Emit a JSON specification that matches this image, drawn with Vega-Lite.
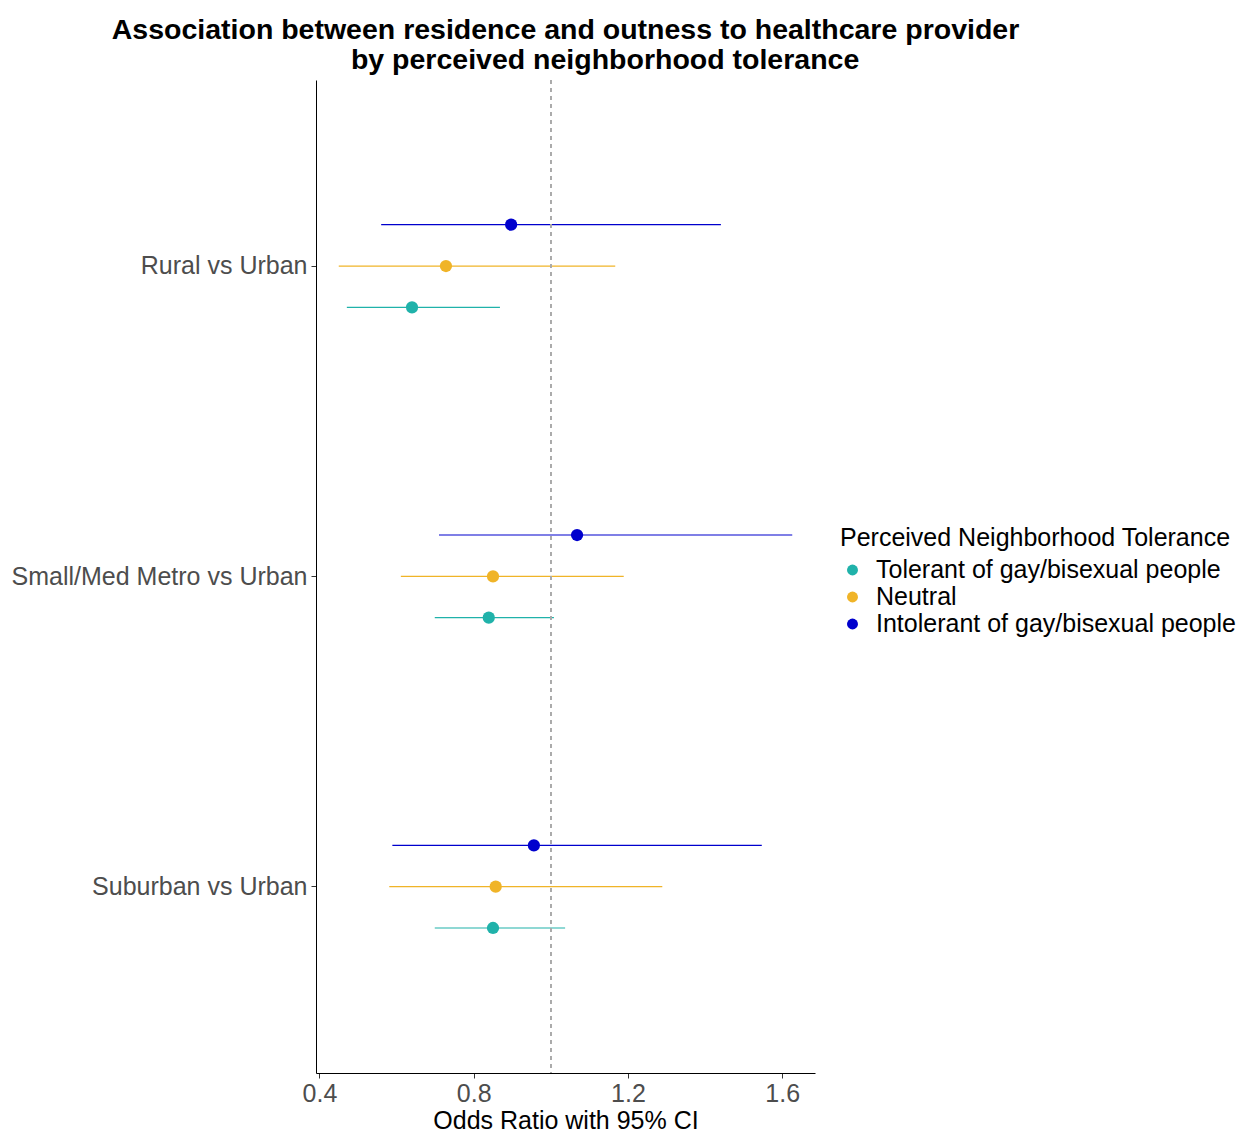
{
  "$schema": "https://vega.github.io/schema/vega-lite/v6.json",
  "autosize": "none",
  "width": 499,
  "height": 993,
  "padding": {"left": 316, "top": 80, "right": 428, "bottom": 59},
  "background": "white",
  "config": {
    "font": "Liberation Sans",
    "view": {"stroke": null},
    "axis": {"grid": false, "domainColor": "black", "domainWidth": 1, "tickColor": "#333333", "tickSize": 5, "labelFontSize": 25, "labelColor": "#4d4d4d", "titleFontSize": 25, "titleFontWeight": "normal", "titleColor": "black", "labelFont": "Liberation Sans", "titleFont": "Liberation Sans", "labelLimit": 400},
    "legend": {"labelFontSize": 25, "titleFontSize": 25, "titleFontWeight": "normal", "labelColor": "black", "titleColor": "black", "labelFont": "Liberation Sans", "titleFont": "Liberation Sans", "labelLimit": 500, "titleLimit": 500}
  },
  "title": {
    "text": ["Association between residence and outness to healthcare provider", "\u200b\u00a0\u00a0\u00a0\u00a0\u00a0\u00a0\u00a0\u00a0\u00a0\u00a0by perceived neighborhood tolerance"],
    "fontSize": 28.5,
    "fontWeight": "bold",
    "font": "Liberation Sans",
    "color": "black",
    "anchor": "middle",
    "lineHeight": 30,
    "offset": 5,
    "limit": 1200
  },
  "data": {
    "values": [
      {"comparison": "Rural vs Urban", "tolerance": "Intolerant of gay/bisexual people", "or": 0.897, "lo": 0.560, "hi": 1.441},
      {"comparison": "Rural vs Urban", "tolerance": "Neutral", "or": 0.728, "lo": 0.450, "hi": 1.167},
      {"comparison": "Rural vs Urban", "tolerance": "Tolerant of gay/bisexual people", "or": 0.640, "lo": 0.471, "hi": 0.868},
      {"comparison": "Small/Med Metro vs Urban", "tolerance": "Intolerant of gay/bisexual people", "or": 1.068, "lo": 0.710, "hi": 1.626},
      {"comparison": "Small/Med Metro vs Urban", "tolerance": "Neutral", "or": 0.850, "lo": 0.611, "hi": 1.189},
      {"comparison": "Small/Med Metro vs Urban", "tolerance": "Tolerant of gay/bisexual people", "or": 0.839, "lo": 0.699, "hi": 1.008},
      {"comparison": "Suburban vs Urban", "tolerance": "Intolerant of gay/bisexual people", "or": 0.956, "lo": 0.589, "hi": 1.547},
      {"comparison": "Suburban vs Urban", "tolerance": "Neutral", "or": 0.857, "lo": 0.581, "hi": 1.289},
      {"comparison": "Suburban vs Urban", "tolerance": "Tolerant of gay/bisexual people", "or": 0.850, "lo": 0.699, "hi": 1.037}
    ]
  },
  "encoding": {
    "y": {"field": "comparison", "type": "nominal", "sort": ["Rural vs Urban", "Small/Med Metro vs Urban", "Suburban vs Urban"], "scale": {"paddingInner": 0, "paddingOuter": 0.1}, "axis": {"title": null, "labelPadding": 4}},
    "yOffset": {"field": "tolerance", "type": "nominal", "sort": ["Intolerant of gay/bisexual people", "Neutral", "Tolerant of gay/bisexual people"], "scale": {"paddingInner": 0, "paddingOuter": 0, "range": [93, 217]}},
    "color": {"field": "tolerance", "type": "nominal", "scale": {"domain": ["Tolerant of gay/bisexual people", "Neutral", "Intolerant of gay/bisexual people"], "range": ["#20B2AA", "#F0B428", "#0000CD"]}, "legend": {"title": "Perceived Neighborhood Tolerance", "orient": "none", "legendX": 524, "legendY": 446, "symbolType": "circle", "symbolSize": 120, "symbolOffset": 0, "labelOffset": 11, "titlePadding": 10, "rowPadding": 2, "clipHeight": 18, "symbolStrokeWidth": 0}}
  },
  "layer": [
    {
      "mark": {"type": "rule", "strokeWidth": 1.2},
      "encoding": {
        "x": {"field": "lo", "type": "quantitative", "scale": {"domain": [0.391, 1.685], "nice": false, "zero": false}, "axis": {"title": "Odds Ratio with 95% CI", "values": [0.4, 0.8, 1.2, 1.6], "format": ".1f", "labelPadding": 3, "titlePadding": 2}},
        "x2": {"field": "hi"}
      }
    },
    {
      "mark": {"type": "rule", "strokeDash": [4, 4], "strokeWidth": 1},
      "encoding": {"x": {"datum": 1}, "color": {"value": "#aaaaaa"}, "yOffset": null, "y": null}
    },
    {
      "mark": {"type": "point", "shape": "circle", "filled": true, "opacity": 1, "size": 150},
      "encoding": {"x": {"field": "or", "type": "quantitative"}}
    }
  ]
}
